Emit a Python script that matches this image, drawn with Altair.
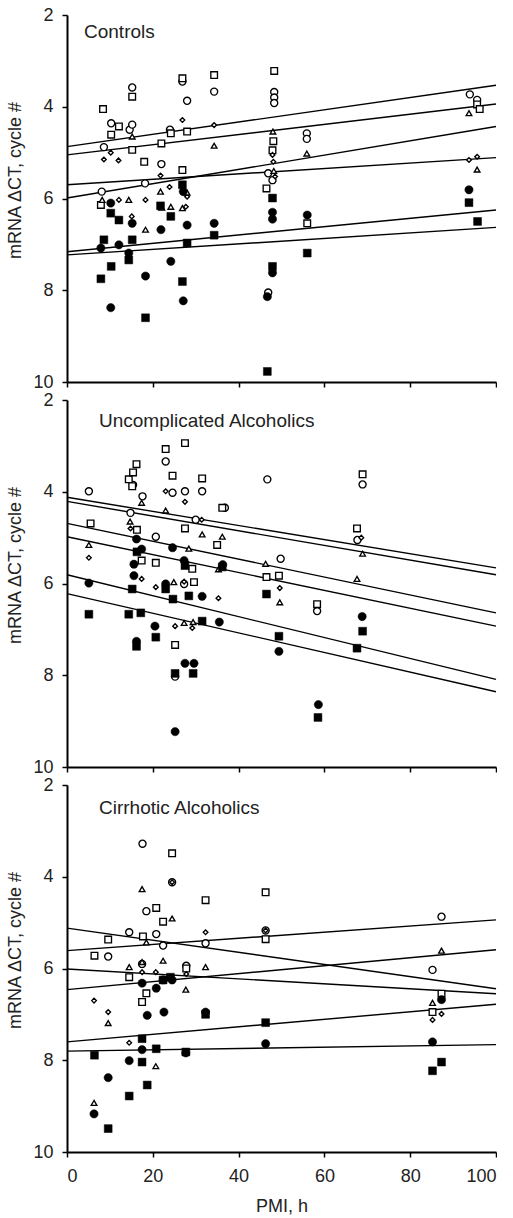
import altair as alt
import pandas as pd

FONT = "Liberation Sans"
X_TICKS = [0, 20, 40, 60, 80, 100]
Y_TICKS = [2, 4, 6, 8, 10]
PANEL_TITLES = ["Controls", "Uncomplicated Alcoholics", "Cirrhotic Alcoholics"]
Y_TITLE = "mRNA \u0394CT, cycle #"
X_TITLE = "PMI, h"

# ---------------- Controls ----------------
ctrl_open_circle = [(8.6, 4.88), (8.1, 5.85), (10.3, 4.36), (14.6, 4.5), (15.2, 3.58), (15.2, 4.39),
                    (18.2, 5.67), (22.0, 5.25), (24.0, 4.5), (26.9, 3.45), (28.0, 3.87), (34.3, 3.67),
                    (48.3, 3.68), (48.3, 3.8), (48.3, 3.92), (46.9, 5.45), (47.9, 5.6), (46.9, 8.05),
                    (55.9, 4.58), (55.9, 4.7), (93.9, 3.73), (95.6, 3.85)]
ctrl_open_square = [(8.4, 4.05), (10.3, 4.61), (12.1, 4.43), (15.2, 3.78), (15.2, 4.94), (18.0, 5.2),
                    (22.0, 4.8), (24.2, 4.58), (26.9, 3.38), (26.9, 5.38), (28.0, 4.54), (34.3, 3.31),
                    (48.3, 3.22), (48.1, 4.75), (47.9, 4.95), (46.5, 5.78), (56.0, 6.54), (95.6, 3.95),
                    (96.2, 4.05), (7.9, 6.14)]
ctrl_open_diamond = [(8.6, 5.15), (10.2, 5.0), (12.0, 5.17), (12.1, 6.03), (15.1, 6.39), (18.3, 6.03),
                     (21.8, 5.5), (23.9, 5.75), (26.9, 4.29), (28.0, 5.96), (27.7, 6.18), (34.3, 4.40),
                     (47.9, 5.05), (48.1, 5.2), (48.5, 5.52), (93.7, 5.16), (95.6, 5.09)]
ctrl_open_triangle = [(8.2, 6.03), (14.4, 6.03), (15.2, 4.65), (18.3, 6.68), (21.8, 5.85), (22.1, 6.2),
                      (24.2, 6.18), (26.9, 6.21), (28.0, 5.87), (34.3, 4.85), (48.0, 4.54), (48.2, 5.4),
                      (55.9, 5.02), (93.7, 4.14), (95.6, 5.37)]
ctrl_filled_circle = [(7.9, 7.08), (10.2, 6.1), (10.2, 8.38), (12.1, 7.01), (15.2, 6.54), (14.4, 7.19),
                      (18.3, 7.69), (21.9, 6.68), (24.2, 7.37), (27.1, 5.85), (28.0, 6.58), (27.1, 8.23),
                      (34.3, 6.54), (47.9, 6.3), (47.9, 6.45), (47.9, 7.62), (46.7, 8.14), (56.0, 6.36),
                      (93.7, 5.81)]
ctrl_filled_square = [(7.9, 7.75), (8.6, 6.9), (10.2, 6.32), (10.3, 7.48), (12.1, 6.47), (14.4, 7.34),
                      (15.2, 6.9), (18.3, 8.6), (21.8, 6.16), (24.2, 6.39), (26.9, 5.7), (26.9, 7.81),
                      (28.0, 6.97), (34.3, 6.8), (47.9, 5.99), (47.9, 7.48), (46.7, 9.77), (56.0, 7.19),
                      (93.7, 6.09), (95.7, 6.5)]
ctrl_fit_at_0 = [4.87, 5.05, 5.99, 5.70, 7.16, 7.23]
ctrl_fit_at_100 = [3.53, 3.94, 4.43, 5.11, 6.25, 6.63]

# ---------------- Uncomplicated Alcoholics ----------------
unc_open_circle = [(5.1, 3.99), (14.8, 4.46), (15.4, 3.85), (17.6, 4.1), (20.7, 4.98), (23.0, 3.34),
                   (24.6, 4.02), (25.2, 8.03), (27.3, 6.01), (27.5, 3.99), (30.0, 4.61), (31.5, 3.99),
                   (36.8, 4.35), (46.7, 3.73), (49.8, 5.46), (58.3, 6.6), (67.7, 5.05), (68.9, 3.84)]
unc_open_square = [(5.5, 4.69), (14.4, 3.73), (15.2, 3.88), (15.4, 3.58), (16.2, 3.40), (16.3, 4.83),
                   (17.4, 5.5), (20.7, 5.55), (23.0, 3.07), (24.6, 3.65), (25.2, 7.34), (27.5, 2.94),
                   (27.5, 4.80), (29.2, 5.68), (29.6, 5.97), (31.5, 3.71), (36.2, 4.35), (35.0, 5.16),
                   (46.5, 5.86), (49.4, 5.83), (58.3, 6.45), (67.6, 4.80), (68.9, 3.62)]
unc_open_diamond = [(5.1, 5.44), (14.8, 4.8), (17.4, 5.9), (20.7, 6.08), (23.0, 3.99), (25.2, 6.93),
                    (27.3, 5.96), (27.5, 4.22), (29.2, 6.97), (31.4, 4.61), (35.3, 6.32), (49.6, 6.1),
                    (68.6, 5.0)]
unc_open_triangle = [(5.1, 5.16), (14.7, 4.65), (17.4, 4.24), (23.0, 4.41), (24.9, 5.97), (27.3, 6.86),
                     (28.4, 5.24), (29.4, 6.84), (31.5, 4.93), (35.3, 5.69), (36.2, 4.98), (46.3, 5.57),
                     (49.6, 6.41), (67.6, 5.9), (68.9, 5.35)]
unc_filled_circle = [(5.1, 5.99), (15.6, 5.58), (15.6, 5.83), (16.2, 5.03), (16.2, 7.26), (17.4, 5.25),
                     (20.5, 6.93), (23.0, 6.01), (24.6, 5.22), (25.2, 9.23), (27.3, 5.5), (27.5, 7.74),
                     (29.6, 7.74), (31.5, 6.28), (35.5, 6.84), (36.3, 5.59), (49.4, 7.48), (58.6, 8.64),
                     (68.8, 6.72)]
unc_filled_square = [(5.1, 6.67), (14.4, 6.67), (15.2, 6.12), (16.2, 7.37), (16.3, 5.31), (17.2, 6.64),
                     (20.7, 7.17), (23.0, 6.12), (24.7, 6.34), (25.2, 7.96), (27.5, 5.61), (28.4, 6.27),
                     (29.4, 7.96), (31.5, 6.82), (36.2, 5.64), (46.5, 6.23), (49.4, 7.15), (58.5, 8.92),
                     (67.6, 7.41), (68.9, 7.04)]
unc_fit_at_0 = [4.12, 4.21, 4.69, 4.98, 5.81, 6.22]
unc_fit_at_100 = [5.66, 5.81, 6.64, 6.93, 8.09, 8.36]

# ---------------- Cirrhotic Alcoholics ----------------
cir_open_circle = [(9.6, 5.74), (14.5, 5.21), (17.6, 3.28), (17.5, 5.9), (18.5, 4.75), (20.8, 5.25),
                   (22.4, 5.5), (24.5, 4.12), (27.8, 5.94), (32.3, 5.45), (46.3, 5.17), (85.2, 6.03),
                   (87.3, 4.87)]
cir_open_square = [(6.4, 5.72), (9.6, 5.37), (14.5, 6.19), (17.5, 6.73), (17.7, 5.3), (18.5, 6.54),
                   (20.8, 4.68), (22.4, 4.98), (24.5, 3.49), (27.8, 6.0), (32.3, 4.51), (46.3, 4.34),
                   (46.3, 5.36), (85.2, 6.95), (87.3, 6.55)]
cir_open_diamond = [(6.3, 6.7), (9.6, 6.95), (14.5, 7.62), (17.5, 6.08), (20.7, 6.08), (24.5, 4.12),
                    (27.8, 6.12), (32.3, 5.21), (46.3, 5.17), (85.2, 7.12), (87.3, 6.99)]
cir_open_triangle = [(6.3, 8.93), (9.6, 7.19), (14.5, 5.97), (17.5, 4.27), (17.5, 5.86), (18.5, 5.43),
                     (20.7, 8.13), (22.4, 5.83), (24.5, 4.91), (27.7, 6.46), (32.3, 5.97), (85.2, 6.75),
                     (87.3, 5.61)]
cir_filled_circle = [(6.3, 9.17), (9.6, 8.38), (14.5, 8.01), (17.5, 6.32), (17.5, 7.77), (18.7, 7.02),
                     (20.8, 6.43), (22.4, 6.25), (22.6, 6.95), (24.5, 6.25), (27.7, 7.84), (32.3, 6.95),
                     (46.3, 7.64), (85.2, 7.6), (87.3, 6.68)]
cir_filled_square = [(6.4, 7.89), (9.6, 9.49), (14.5, 8.78), (17.5, 7.53), (17.5, 8.04), (18.7, 8.54),
                     (20.8, 7.75), (22.4, 6.25), (24.1, 6.19), (27.7, 7.82), (32.3, 7.0), (46.3, 7.18),
                     (85.2, 8.23), (87.3, 8.04)]
cir_fit_at_0 = [5.12, 5.61, 6.01, 6.46, 7.60, 7.80]
cir_fit_at_100 = [6.44, 4.94, 6.55, 5.59, 6.78, 7.66]

# marker styles: (shape, fill, size)
STYLES = {
    "open circle": ("circle", "white", 50),
    "open square": ("square", "white", 44),
    "open diamond": ("diamond", "white", 22),
    "open triangle": ("triangle-up", "white", 32),
    "filled circle": ("circle", "black", 68),
    "filled square": ("square", "black", 62),
}

PANELS = [
    (ctrl_open_circle, ctrl_open_square, ctrl_open_diamond, ctrl_open_triangle,
     ctrl_filled_circle, ctrl_filled_square, ctrl_fit_at_0, ctrl_fit_at_100),
    (unc_open_circle, unc_open_square, unc_open_diamond, unc_open_triangle,
     unc_filled_circle, unc_filled_square, unc_fit_at_0, unc_fit_at_100),
    (cir_open_circle, cir_open_square, cir_open_diamond, cir_open_triangle,
     cir_filled_circle, cir_filled_square, cir_fit_at_0, cir_fit_at_100),
]
TITLE_POS = [(17, 23), (32, 27), (32, 29)]

W, H = 429, 367

xscale = alt.Scale(domain=[0, 100], nice=False, zero=False)
yscale = alt.Scale(domain=[2, 10], reverse=True, nice=False, zero=False)


def make_panel(i):
    oc, osq, od, ot, fc, fsq, f0, f100 = PANELS[i]
    bottom = i == 2
    xaxis = alt.Axis(values=X_TICKS, title=X_TITLE if bottom else None, labels=bottom,
                     grid=False, tickSize=5, labelPadding=10, titlePadding=12)
    yaxis = alt.Axis(values=Y_TICKS, title=Y_TITLE, grid=False, tickSize=5, labelPadding=9,
                     titlePadding=8, titleY=165)

    fits = pd.DataFrame({"a": f0, "b": f100, "x0": [0] * len(f0), "x1": [100] * len(f0)})
    rules = alt.Chart(fits).mark_rule(color="black", strokeWidth=1.4).encode(
        x=alt.X("x0:Q", scale=xscale, axis=xaxis),
        x2="x1:Q",
        y=alt.Y("a:Q", scale=yscale, axis=yaxis),
        y2="b:Q",
    )
    layers = [rules]
    for name, pts in zip(STYLES.keys(), [oc, osq, od, ot, fc, fsq]):
        shape, fill, size = STYLES[name]
        df = pd.DataFrame(pts, columns=["pmi", "dct"])
        layers.append(
            alt.Chart(df).mark_point(shape=shape, filled=True, fill=fill, stroke="black",
                                     strokeWidth=1.35 if fill == "white" else 0.5,
                                     size=size, opacity=1).encode(
                x=alt.X("pmi:Q", scale=xscale, axis=xaxis),
                y=alt.Y("dct:Q", scale=yscale, axis=yaxis),
            )
        )
    tx, ty = TITLE_POS[i]
    label = alt.Chart(pd.DataFrame({"t": [PANEL_TITLES[i]]})).mark_text(
        align="left", baseline="alphabetic", fontSize=19, font=FONT, color="#222"
    ).encode(x=alt.value(tx), y=alt.value(ty), text="t:N")
    layers.append(label)
    return alt.layer(*layers).properties(width=W, height=H)


chart = alt.vconcat(make_panel(0), make_panel(1), make_panel(2), spacing=18, bounds="flush").properties(
    padding={"left": 6, "top": 6, "right": 0, "bottom": 0}
).configure(
    font=FONT
).configure_view(stroke=None).configure_axis(
    domainColor="black", domainWidth=2, tickColor="black", tickWidth=1.5,
    labelColor="#222", titleColor="#222", labelFont=FONT, titleFont=FONT,
    labelFontSize=18, titleFontSize=18, titleFontWeight="normal",
)

chart.save("out.html", embed_options={"renderer": "svg", "actions": False})
